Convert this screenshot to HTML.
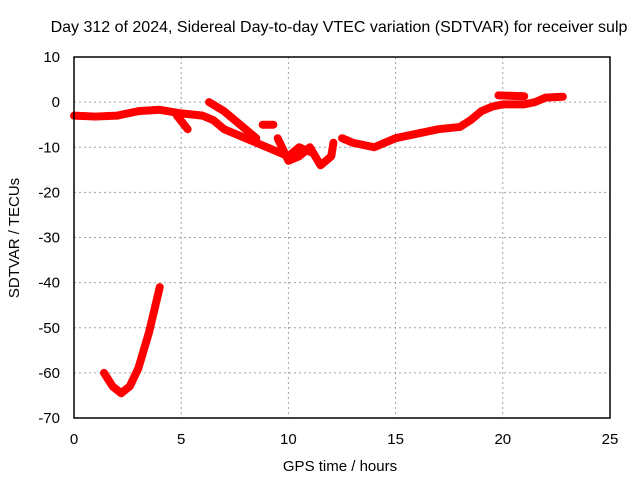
<!DOCTYPE html>
<html><head><meta charset="utf-8"><style>
body{margin:0;background:#fff}
text{font-family:"Liberation Sans",sans-serif;font-size:15px;fill:#000}
</style></head><body>
<svg id="chart" width="640" height="480" viewBox="0 0 640 480" xmlns="http://www.w3.org/2000/svg">
<text x="339" y="32" text-anchor="middle" style="font-size:16px">Day 312 of 2024, Sidereal Day-to-day VTEC variation (SDTVAR) for receiver sulp</text>
<text x="340" y="471" text-anchor="middle">GPS time / hours</text>
<text transform="translate(19,238) rotate(-90)" text-anchor="middle">SDTVAR / TECUs</text>
<g id="grid"></g><g id="ticks"></g><g id="series"></g>
<rect x="74" y="57" width="536" height="361" fill="none" stroke="#000" stroke-width="1.5"/>
</svg>
<script>
const xTicks=[0,5,10,15,20,25];
const yTicks=[10,0,-10,-20,-30,-40,-50,-60,-70];
const segA=[[0,-3],[1,-3.2],[2,-3],[3,-2],[4,-1.7],[5,-2.5],[6,-3],[6.5,-4],[7,-6],[8,-8],[9,-10],[10,-12],[10.5,-10],[11,-11]];
const segB=[[6.3,0],[7,-2],[8,-6],[8.5,-8]];
const segC=[[4.8,-3],[5.3,-6]];
const segD=[[8.8,-5],[9.3,-5]];
const segE=[[9.5,-8],[10,-13],[10.5,-12],[11,-10],[11.5,-14],[12,-12],[12.1,-9]];
const segF=[[12.5,-8],[13,-9],[14,-10],[15,-8],[16,-7],[17,-6],[18,-5.5],[18.5,-4],[19,-2],[19.5,-1],[20,-0.5],[21,-0.5],[21.5,0],[22,1],[22.8,1.2]];
const segG=[[19.8,1.5],[21,1.3]];
const segH=[[1.4,-60],[1.8,-63],[2.2,-64.5],[2.6,-63],[3,-59],[3.5,-51],[4,-41]];
const segments=[segA,segB,segC,segD,segE,segF,segG,segH];
const NS="http://www.w3.org/2000/svg";
const X=h=>74+h*536/25, Y=v=>57+(10-v)*361/80;
const grid=document.getElementById('grid'),ticks=document.getElementById('ticks'),ser=document.getElementById('series');
function mk(t,a,p){const e=document.createElementNS(NS,t);for(const k in a)e.setAttribute(k,a[k]);p.appendChild(e);return e;}
xTicks.forEach(t=>{
 if(t>0&&t<25){const g=mk('line',{x1:X(t),x2:X(t),y1:57,y2:418,stroke:'#a0a0a0','stroke-dasharray':'2,3'},grid);
 
 }
 const l=mk('text',{x:X(t),y:444,'text-anchor':'middle'},ticks);l.textContent=t;
 
 
});
yTicks.forEach(t=>{
 if(t<10&&t>-70){const g=mk('line',{x1:74,x2:610,y1:Y(t),y2:Y(t),stroke:'#a0a0a0','stroke-dasharray':'2,3'},grid);
 
 }
 const l=mk('text',{x:60,y:Y(t)+5,'text-anchor':'end'},ticks);l.textContent=t;
 
 
});
segments.forEach(s=>{
 const p=mk('polyline',{points:s.map(d=>X(d[0])+','+Y(d[1])).join(' '),fill:'none',stroke:'#ff0000','stroke-width':8,'stroke-linejoin':'round','stroke-linecap':'round'},ser);
 
 
});
</script>
</body></html>
